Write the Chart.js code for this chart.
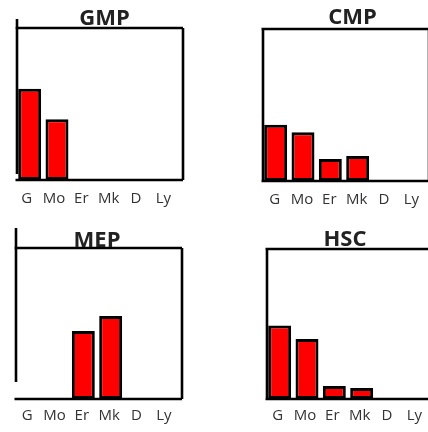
<!DOCTYPE html>
<html>
<head>
<meta charset="utf-8">
<script src="https://cdn.jsdelivr.net/npm/chart.js@4.4.1/dist/chart.umd.min.js"></script>
<style>
  html, body { margin: 0; padding: 0; background: #fff; }
  #wrap { position: relative; width: 428px; height: 432px; overflow: hidden; }
  #wrap canvas { position: absolute; }
</style>
</head>
<body>
<div id="wrap">
  <canvas id="gmp"></canvas>
  <canvas id="cmp"></canvas>
  <canvas id="mep"></canvas>
  <canvas id="hsc"></canvas>
</div>
<script>
// Data (bar heights as % of panel height)
const categories = ['G', 'Mo', 'Er', 'Mk', 'D', 'Ly'];
const gmpValues = [60, 40, 0, 0, 0, 0];
const cmpValues = [37, 32, 14.5, 16.5, 0, 0];
const mepValues = [0, 0, 45, 55, 0, 0];
const hscValues = [49, 40, 8.7, 7.3, 0, 0];

// Box frame around the plot area, drawn under the bars
const framePlugin = {
  id: 'frame',
  beforeDatasetsDraw(chart, args, opts) {
    const ca = chart.chartArea;
    const ctx = chart.ctx;
    const l = ca.left + 1, r = ca.right + 3, t = ca.top, b = ca.bottom;
    ctx.save();
    ctx.strokeStyle = '#000';
    ctx.lineWidth = 2.6;
    ctx.beginPath();
    ctx.moveTo(l - 1.5, t); ctx.lineTo(r, t);
    ctx.moveTo(r, t); ctx.lineTo(r, b);
    ctx.moveTo(l - 1.5, b); ctx.lineTo(r, b);
    ctx.moveTo(l, t - (opts.extTop || 0)); ctx.lineTo(l, b - (opts.gapBottom || 0));
    ctx.stroke();
    ctx.restore();
  }
};

// Panel title above the box
const headPlugin = {
  id: 'head',
  afterDraw(chart, args, opts) {
    const ca = chart.chartArea;
    const ctx = chart.ctx;
    ctx.save();
    ctx.font = 'bold 22px "Open Sans"';
    ctx.fillStyle = '#222';
    ctx.textAlign = 'center';
    ctx.textBaseline = 'alphabetic';
    ctx.fillText(opts.text, ca.left + 84 + (opts.dx || 0), ca.top - (opts.lift || 0));
    ctx.restore();
  }
};

function makePanel(id, title, values, pos) {
  const el = document.getElementById(id);
  el.width = 184;
  el.height = pos.height;
  el.style.left = pos.left + 'px';
  el.style.top = pos.top + 'px';

  return new Chart(el, {
    type: 'bar',
    data: {
      labels: categories,
      datasets: [{
        data: values,
        backgroundColor: '#ff0000',
        borderColor: '#000',
        borderWidth: 3,
        borderSkipped: false,
        barPercentage: 0.84,
        categoryPercentage: 1
      }]
    },
    options: {
      responsive: false,
      animation: false,
      layout: { padding: { left: 10, right: 10, top: pos.padTop, bottom: 0 } },
      plugins: {
        legend: { display: false },
        tooltip: { enabled: false },
        frame: { extTop: pos.extTop, gapBottom: pos.gapBottom },
        head: { text: title, dx: pos.titleDx, lift: pos.titleLift }
      },
      scales: {
        x: {
          grid: { display: false, drawTicks: false },
          border: { display: false },
          ticks: {
            color: '#333',
            font: { family: 'Open Sans', size: 15 },
            padding: pos.tickPad,
            labelOffset: pos.labelOffset,
            maxRotation: 0,
            autoSkip: false
          }
        },
        y: { display: false, min: 0, max: 100 }
      }
    },
    plugins: [framePlugin, headPlugin]
  });
}

makePanel('gmp', 'GMP', gmpValues, {
  left: 6, top: 0, height: 218, padTop: 28, tickPad: 10,
  extTop: 9, gapBottom: 6, titleDx: 4.5, titleLift: 3, labelOffset: -3
});
makePanel('cmp', 'CMP', cmpValues, {
  left: 252, top: 0, height: 219, padTop: 29, tickPad: 10,
  extTop: 0, gapBottom: 0, titleDx: 6.5, titleLift: 5, labelOffset: -1
});
makePanel('mep', 'MEP', mepValues, {
  left: 5, top: 216, height: 217, padTop: 32, tickPad: 8,
  extTop: 20, gapBottom: 17, titleDx: -2, titleLift: 1, labelOffset: -1.5
});
makePanel('hsc', 'HSC', hscValues, {
  left: 256, top: 216, height: 217, padTop: 33, tickPad: 8,
  extTop: 0, gapBottom: 0, titleDx: -5, titleLift: 3, labelOffset: -2
});
</script>
</body>
</html>
